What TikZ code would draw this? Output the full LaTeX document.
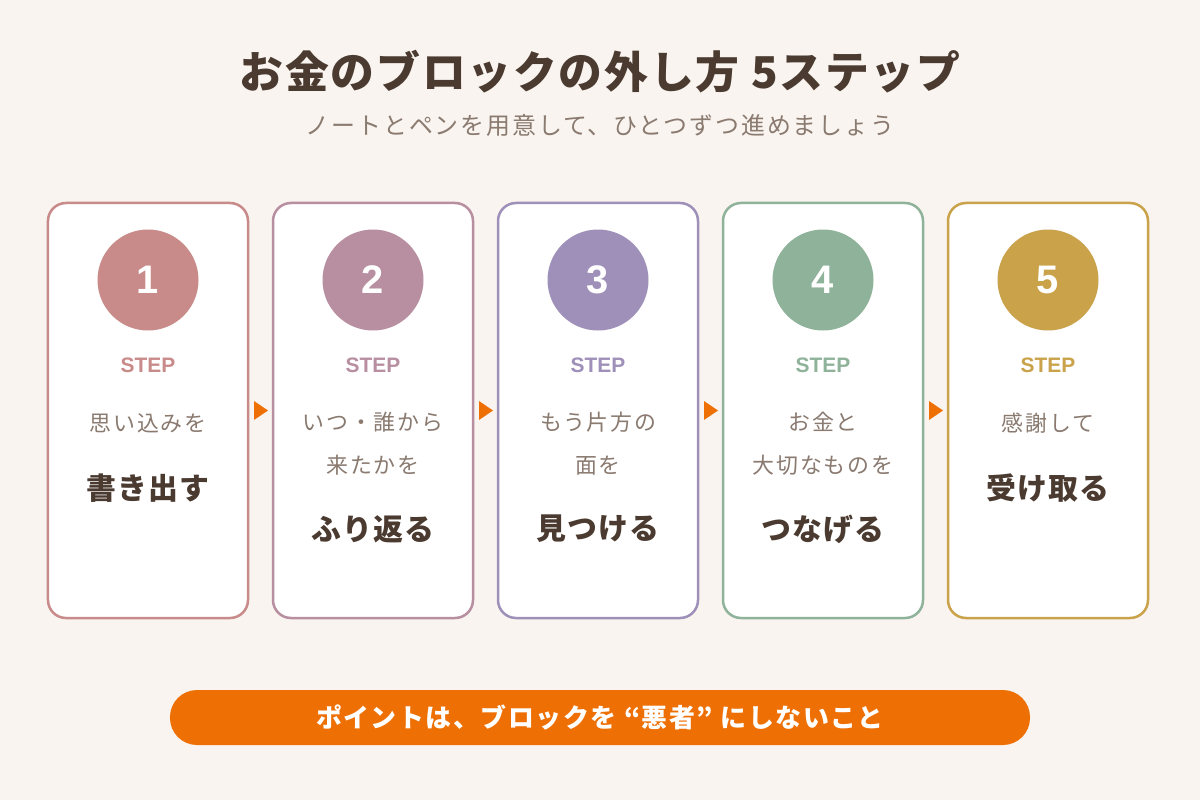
\documentclass[tikz,border=0pt]{standalone}
\usepackage{fontspec}
\setmainfont{Noto Sans CJK JP}
\newfontfamily\lat{Liberation Sans}
\definecolor{bg}{HTML}{F9F4EF}
\definecolor{ttl}{HTML}{4A3A30}
\definecolor{sub}{HTML}{8A7A70}
\definecolor{cA}{HTML}{C98A8A}
\definecolor{cB}{HTML}{B88FA0}
\definecolor{cC}{HTML}{9E90B8}
\definecolor{cD}{HTML}{8FB39A}
\definecolor{cE}{HTML}{C9A24A}
\definecolor{org}{HTML}{EE7004}
\begin{document}
\begin{tikzpicture}[x=1bp,y=-1bp,
  card/.style={draw=#1,line width=2.5bp,fill=white,rounded corners=18bp,minimum width=200bp,minimum height=415bp,inner sep=0},
  num/.style={circle,fill=#1,minimum size=101bp,inner sep=0,text=white,font=\fontsize{40}{42}\selectfont\lat\bfseries},
  step/.style={text=#1,font=\fontsize{21}{24}\selectfont\lat\bfseries},
  sm/.style={text=sub,font=\fontsize{22}{43}\selectfont\addfontfeature{LetterSpace=8},align=center},
  big/.style={text=ttl,font=\fontsize{30}{32}\selectfont\bfseries\addfontfeature{LetterSpace=4}},
  tri/.style={fill=org,draw=none}]
\fill[bg] (0,0) rectangle (1200,800);
\node[text=ttl,font=\fontsize{44}{50}\selectfont\bfseries\addfontfeature{LetterSpace=4}] (t) at (600,72) {お金のブロックの外し方 5ステップ};
\node[text=sub,font=\fontsize{24}{28}\selectfont\addfontfeature{LetterSpace=8}] (s) at (600,125) {ノートとペンを用意して、ひとつずつ進めましょう};
\foreach \i/\x/\c in {1/148/cA,2/373/cB,3/598/cC,4/823/cD,5/1048/cE}{
  \node[card=\c] (k\i) at (\x,410.5) {};
  \node[num=\c] (n\i) at (\x,280) {\i};
  \node[step=\c] (st\i) at (\x,365) {STEP};
}
\node[sm] (a1) at (148,423) {思い込みを};
\node[big] (b1) at (148,488) {書き出す};
\node[sm] (a2) at (373,444) {いつ・誰から\\来たかを};
\node[big] (b2) at (373,529) {ふり返る};
\node[sm] (a3) at (598,444) {もう片方の\\面を};
\node[big] (b3) at (598,529) {見つける};
\node[sm] (a4) at (823,444) {お金と\\大切なものを};
\node[big] (b4) at (823,529) {つなげる};
\node[sm] (a5) at (1048,423) {感謝して};
\node[big] (b5) at (1048,488) {受け取る};
\foreach \x in {254,479,704,929}{
  \fill[tri] (\x,401) -- (\x+14,410.5) -- (\x,420) -- cycle;
}
\node[fill=org,rounded corners=27bp,minimum width=860bp,minimum height=55bp,text=white,font=\fontsize{26}{30}\selectfont\bfseries\addfontfeature{LetterSpace=6}] (p) at (600,717.5) {ポイントは、ブロックを “悪者” にしないこと};
\end{tikzpicture}
\end{document}
